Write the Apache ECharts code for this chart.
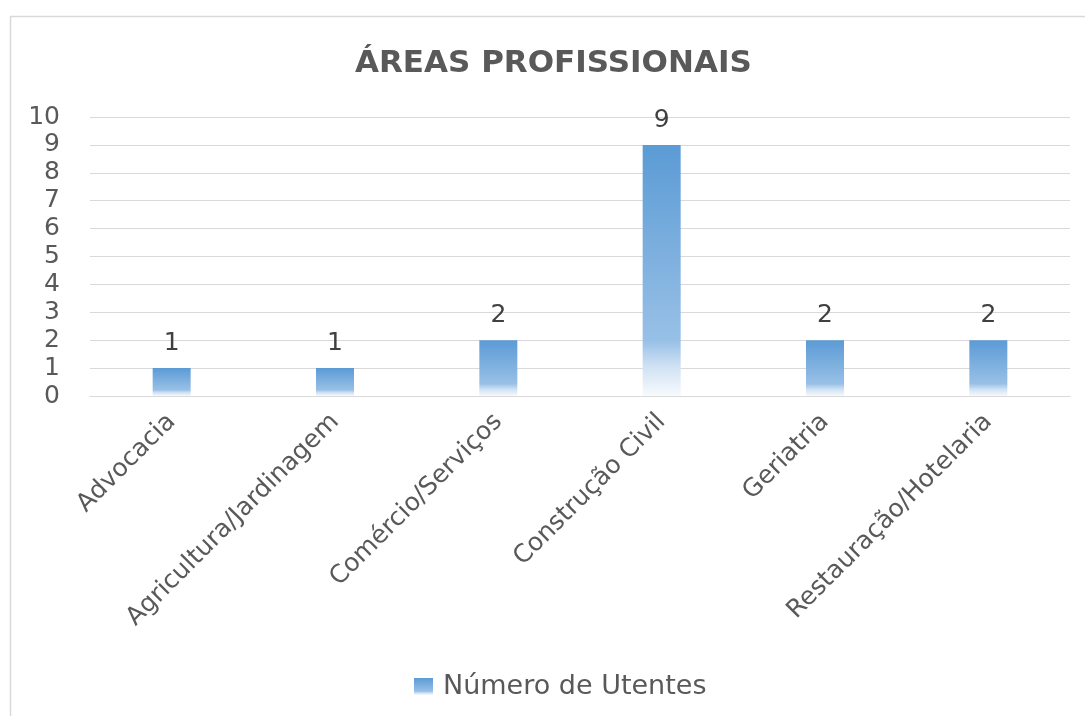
<!DOCTYPE html>
<html>
<head>
<meta charset="utf-8">
<script src="https://cdn.jsdelivr.net/npm/echarts@6/dist/echarts.min.js"></script>
<style>
html,body{margin:0;padding:0;background:#fff;}
#chart{width:1085px;height:716px;}
</style>
</head>
<body>
<div id="chart"></div>
<script>
const titleText = 'ÁREAS PROFISSIONAIS';
const categories = ['Advocacia', 'Agricultura/Jardinagem', 'Comércio/Serviços', 'Construção Civil', 'Geriatria', 'Restauração/Hotelaria'];
const seriesName = 'Número de Utentes';
const values = [1, 1, 2, 9, 2, 2];
const yTicks = { min: 0, max: 10, interval: 1 };

const FONT = '"DejaVu Sans", "Open Sans", sans-serif';
const barGrad = new echarts.graphic.LinearGradient(0, 0, 0, 1, [
  { offset: 0, color: '#5B9BD5' },
  { offset: 0.78, color: '#98C0E6' },
  { offset: 0.88, color: '#CFE1F3' },
  { offset: 1, color: '#F7FAFD' }
]);

const chart = echarts.init(document.getElementById('chart'), null, { renderer: 'canvas' });
chart.setOption({
  backgroundColor: '#ffffff',
  animation: false,
  graphic: [{
    type: 'rect', silent: true, z: -1,
    shape: { x: 10.5, y: 16.5, width: 1090, height: 720 },
    style: { fill: 'none', stroke: '#D9D9D9', lineWidth: 1.5 }
  }],
  title: {
    text: titleText,
    left: 350,
    top: 43,
    textStyle: { fontFamily: FONT, fontSize: 31, fontWeight: 'bold', color: '#595959' }
  },
  legend: {
    bottom: 11,
    left: 409,
    itemWidth: 19,
    itemHeight: 17,
    itemGap: 10,
    textStyle: { fontFamily: FONT, fontSize: 27, color: '#595959', padding: [0, 0, 0, 5] },
    data: [{ name: seriesName, icon: 'rect' }]
  },
  grid: { left: 90, right: 15, top: 117, bottom: 320, containLabel: false },
  xAxis: {
    type: 'category',
    data: categories,
    axisLine: { lineStyle: { color: '#D9D9D9', width: 1 } },
    axisTick: { show: false },
    axisLabel: { rotate: 45, margin: 22, fontFamily: FONT, fontSize: 25, color: '#595959', interval: 0 }
  },
  yAxis: {
    type: 'value',
    min: yTicks.min, max: yTicks.max, interval: yTicks.interval,
    axisLine: { show: false },
    axisTick: { show: false },
    splitLine: { lineStyle: { color: '#D9D9D9', width: 1 } },
    axisLabel: { margin: 30, fontFamily: FONT, fontSize: 25, color: '#595959' }
  },
  series: [{
    name: seriesName,
    type: 'bar',
    data: values,
    barWidth: 38,
    itemStyle: { color: barGrad },
    label: { show: true, position: 'top', distance: 12, fontFamily: FONT, fontSize: 25, color: '#404040' }
  }]
});
</script>
</body>
</html>
